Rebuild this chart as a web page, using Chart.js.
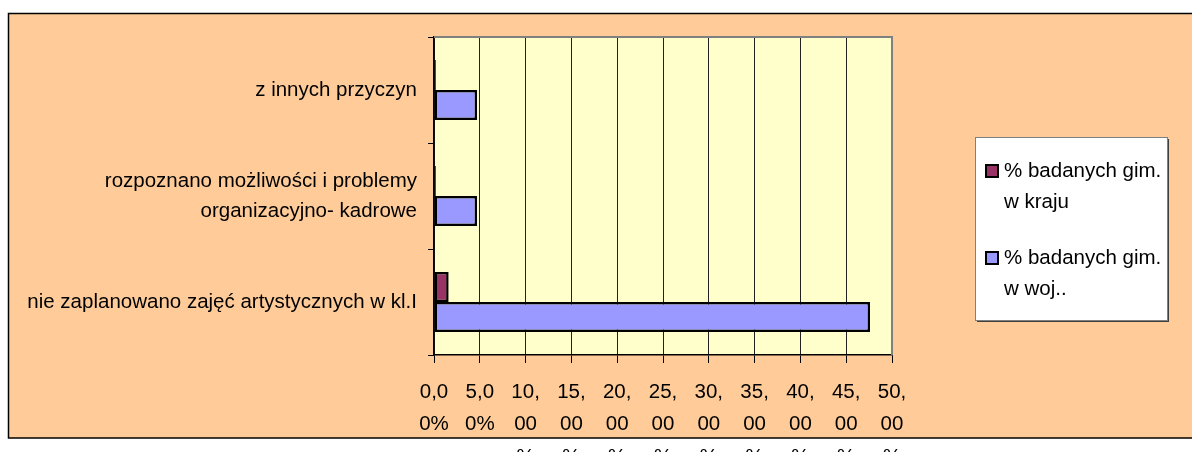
<!DOCTYPE html>
<html>
<head>
<meta charset="utf-8">
<script src="https://cdn.jsdelivr.net/npm/chart.js@4/dist/chart.umd.min.js"></script>
<style>
  html, body { margin: 0; padding: 0; background: #ffffff; }
  #wrap { position: relative; width: 1192px; height: 452px; }
  canvas { display: block; }
</style>
</head>
<body>
<div id="wrap"><canvas id="c" width="1192" height="452"></canvas></div>
<script>
// ---- data ----
const categories = [
  "z innych przyczyn",
  ["rozpoznano możliwości i problemy", "organizacyjno- kadrowe"],
  "nie zaplanowano zajęć artystycznych w kl.I"
];
const seriesNames = [
  ["% badanych gim.", "w kraju"],
  ["% badanych gim.", "w woj.."]
];
const kraj = [0.2, 0.2, 1.6];
const woj = [4.7, 4.7, 47.6];
const xTickLabels = [
  ["0,0", "0%"], ["5,0", "0%"], ["10,", "00", "%"], ["15,", "00", "%"],
  ["20,", "00", "%"], ["25,", "00", "%"], ["30,", "00", "%"], ["35,", "00", "%"],
  ["40,", "00", "%"], ["45,", "00", "%"], ["50,", "00", "%"]
];
const seriesColors = ["#993366", "#9999FF"];

const FONT = "'Liberation Sans', Arial, sans-serif";
const FSIZE = 20.5;

const backgroundPlugin = {
  id: 'bg',
  beforeDraw(chart) {
    const ctx = chart.ctx;
    const a = chart.chartArea;
    ctx.save();
    ctx.fillStyle = '#FFCC99';
    ctx.fillRect(8, 13, 1200, 425);
    ctx.strokeStyle = '#000000';
    ctx.lineWidth = 1.5;
    ctx.strokeRect(8.5, 13.5, 1200, 424.5);
    ctx.fillStyle = '#FFFFCC';
    ctx.fillRect(a.left, a.top, a.right - a.left, a.bottom - a.top);
    ctx.restore();
  },
  beforeDatasetsDraw(chart) {
    const ctx = chart.ctx;
    const a = chart.chartArea;
    ctx.save();
    ctx.strokeStyle = '#808080';
    ctx.lineWidth = 2;
    ctx.beginPath();
    ctx.moveTo(a.left, a.top);
    ctx.lineTo(a.right, a.top);
    ctx.lineTo(a.right, a.bottom);
    ctx.stroke();
    ctx.restore();
  },
  afterDraw(chart) {
    const ctx = chart.ctx;
    ctx.save();
    const lx = 975, ly = 137, lw = 192, lh = 183;
    ctx.fillStyle = '#404040';
    ctx.fillRect(lx + 2, ly + 2, lw, lh);
    ctx.fillStyle = '#FFFFFF';
    ctx.fillRect(lx, ly, lw, lh);
    ctx.strokeStyle = '#808080';
    ctx.lineWidth = 1;
    ctx.strokeRect(lx + 0.5, ly + 0.5, lw, lh);
    ctx.font = FSIZE + 'px ' + FONT;
    ctx.textBaseline = 'middle';
    const rows = [171, 258];
    chart.data.datasets.forEach((ds, i) => {
      const y = rows[i];
      ctx.fillStyle = ds.backgroundColor;
      ctx.fillRect(986, y - 6, 12, 12);
      ctx.strokeStyle = '#000';
      ctx.lineWidth = 2;
      ctx.strokeRect(986, y - 6, 12, 12);
      ctx.fillStyle = '#000';
      ds.legendLines.forEach((t, j) => {
        ctx.fillText(t, 1004, y + j * 31);
      });
    });
    ctx.restore();
  }
};

new Chart(document.getElementById('c'), {
  type: 'bar',
  data: {
    labels: categories,
    datasets: [
      {
        label: seriesNames[0].join(' '),
        legendLines: seriesNames[0],
        data: kraj,
        backgroundColor: seriesColors[0],
        borderColor: '#000000',
        borderWidth: 2.5,
        borderSkipped: false
      },
      {
        label: seriesNames[1].join(' '),
        legendLines: seriesNames[1],
        data: woj,
        backgroundColor: seriesColors[1],
        borderColor: '#000000',
        borderWidth: 2.5,
        borderSkipped: false
      }
    ]
  },
  options: {
    indexAxis: 'y',
    responsive: false,
    animation: false,
    devicePixelRatio: 1,
    layout: { padding: { top: 37, right: 300, bottom: 0, left: 0 } },
    datasets: { bar: { barPercentage: 1.0, categoryPercentage: 0.566 } },
    plugins: {
      legend: { display: false },
      tooltip: { enabled: false }
    },
    scales: {
      x: {
        min: 0,
        max: 50,
        afterFit(scale) { scale.height = 97; },
        ticks: {
          stepSize: 5,
          autoSkip: false,
          maxRotation: 0,
          minRotation: 0,
          padding: 13,
          color: '#000',
          font: { family: FONT, size: FSIZE, lineHeight: '32.5px' },
          callback: (v, i) => xTickLabels[i]
        },
        grid: {
          color: '#222222',
          lineWidth: 1,
          tickLength: 8,
          tickColor: '#000'
        },
        border: { color: '#000', width: 1.5 }
      },
      y: {
        afterFit(scale) { scale.width = 434; },
        ticks: {
          padding: 11,
          color: '#000',
          font: { family: FONT, size: FSIZE, lineHeight: '30px' }
        },
        grid: {
          offset: true,
          drawOnChartArea: false,
          tickLength: 6,
          tickColor: '#000'
        },
        border: { color: '#000', width: 1.5 }
      }
    }
  },
  plugins: [backgroundPlugin]
});
</script>
</body>
</html>
